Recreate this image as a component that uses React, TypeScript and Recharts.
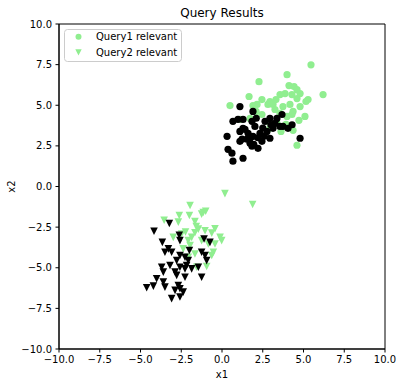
import React from 'react';
import { ScatterChart, Scatter, XAxis, YAxis, ReferenceArea, Legend } from 'recharts';

const TICKS = [-10, -7.5, -5, -2.5, 0, 2.5, 5, 7.5, 10];
const LEGEND_ITEMS = [
  { label: 'Query1 relevant', shape: 'circle' },
  { label: 'Query2 relevant', shape: 'triangle' },
];

const q1Relevant: number[][] = [
  [5.46, 7.49], [3.99, 6.88], [2.27, 6.45], [4.11, 6.21], [4.42, 6.15], [4.6, 5.96], [6.2, 5.66],
  [1.66, 5.54], [3.56, 5.66], [3.87, 5.72], [4.29, 5.66], [4.6, 5.41], [5.28, 5.35], [5.15, 5.23],
  [2.94, 5.23], [3.13, 5.05], [2.82, 5.05], [2.15, 5.05], [3.25, 4.74], [4.17, 5.05], [4.79, 4.92],
  [4.36, 4.62], [4.29, 4.43], [5.09, 4.31], [4.72, 4.07], [3.56, 4.5], [3.99, 4.31], [3.37, 3.88],
  [4.36, 3.46], [4.6, 2.54], [1.9, 4.98], [0.49, 4.98], [2.09, 4.62], [1.72, 4.19], [2.45, 5.35],
  [3.74, 4.92], [3.31, 5.35], [3.93, 3.82], [3.62, 3.39], [2.82, 4.01], [1.1, 4.13], [4.79, 5.72],
  [2.45, 4.43], [2.94, 3.58],
];

const q1Other: number[][] = [
  [1.1, 4.92], [1.9, 4.62], [0.67, 4.01], [0.98, 4.13], [1.29, 4.13], [1.84, 4.01], [0.31, 3.09],
  [1.29, 3.58], [2.02, 3.7], [2.64, 4.01], [2.94, 4.19], [3.37, 4.19], [3.68, 4.43], [3.25, 3.88],
  [3.74, 3.7], [4.05, 3.58], [3.56, 3.7], [4.79, 2.97], [1.1, 2.78], [1.53, 2.91], [1.9, 3.09],
  [2.33, 3.27], [2.76, 3.39], [2.45, 2.78], [2.21, 2.35], [1.72, 2.66], [0.37, 2.29], [0.61, 2.05],
  [1.29, 1.74], [2.94, 2.97], [3.13, 3.58], [1.1, 3.39], [1.41, 3.52], [1.6, 3.27], [1.23, 2.91],
  [1.72, 2.97], [0.67, 1.56], [1.84, 2.48], [2.5, 3.6], [2.2, 3.0], [1.95, 2.6], [2.6, 3.1],
  [3.0, 3.8], [4.3, 3.8], [2.1, 4.2],
];

const q2Relevant: number[][] = [
  [0.18, -0.44], [1.88, -1.11], [-1.96, -1.17], [-1.15, -1.6], [-1.0, -1.52], [-2.62, -1.78],
  [-2.0, -1.78], [-3.55, -2.08], [-2.68, -2.19], [-1.66, -2.16], [-1.58, -2.47], [-1.45, -2.62],
  [-2.24, -2.8], [-1.66, -2.85], [-0.43, -2.6], [-0.63, -2.87], [-1.86, -3.13], [-0.12, -3.13],
  [-0.02, -3.33], [-2.99, -3.13], [-2.07, -3.33], [-1.25, -3.33], [-0.84, -3.54], [-0.43, -3.54],
  [-1.96, -3.64], [-0.53, -4.05], [-0.63, -4.25], [-1.66, -4.15], [-2.07, -4.35], [-1.55, -4.97],
  [-0.94, -4.92], [-2.38, -3.84], [-2.48, -2.92], [-1.04, -2.72], [-1.25, -1.7],
];

const q2Other: number[][] = [
  [-3.23, -2.28], [-4.17, -2.75], [-2.62, -3.0], [-3.66, -3.44], [-2.58, -3.33], [-1.1, -3.23],
  [-0.74, -3.44], [-2.0, -3.94], [-3.29, -3.84], [-3.5, -4.05], [-3.09, -4.05], [-2.58, -4.25],
  [-2.27, -4.35], [-2.07, -4.56], [-2.78, -4.56], [-1.25, -4.05], [-1.04, -4.25], [-0.94, -4.56],
  [-3.19, -4.86], [-3.7, -4.97], [-3.6, -5.27], [-2.58, -4.97], [-2.88, -5.27], [-2.78, -5.47],
  [-2.27, -5.07], [-2.17, -4.86], [-2.27, -5.58], [-1.45, -4.97], [-1.25, -5.58], [-4.01, -5.68],
  [-3.6, -5.88], [-3.5, -6.19], [-4.62, -6.23], [-4.21, -6.13], [-2.68, -6.09], [-2.58, -6.29],
  [-2.38, -6.5], [-2.88, -6.39], [-3.09, -6.9], [-2.58, -6.8], [-1.86, -5.07],
];

const GREEN = '#90ee90';
const FONT = 'DejaVu Sans';

const toPts = (arr: number[][]) => arr.map(([x, y]) => ({ x, y }));
const fmt = (v: number) => (v < 0 ? '\u2212' : '') + Math.abs(v).toFixed(1);

const circleShape = (color: string) => (p: any) => (
  <circle cx={p.cx} cy={p.cy} r={3.6} fill={color} />
);
const triShape = (color: string) => (p: any) => {
  const s = 3.8;
  return (
    <polygon
      points={`${p.cx - s},${p.cy - s} ${p.cx + s},${p.cy - s} ${p.cx},${p.cy + s}`}
      fill={color}
    />
  );
};

const YLabel = (props: any) => {
  const vb = props.viewBox || { x: 0, y: 24, width: 59, height: 325 };
  const cx = vb.x + 11;
  const cy = vb.y + vb.height / 2;
  return (
    <text
      x={cx}
      y={cy}
      transform={`rotate(-90 ${cx} ${cy})`}
      textAnchor="middle"
      dominantBaseline="central"
      fontSize={10}
      fontFamily={FONT}
      fill="#000"
    >
      x2
    </text>
  );
};

const LegendBox = () => (
  <svg width={118} height={33} style={{ display: 'block' }}>
    <rect x={0.5} y={0.5} width={117} height={32} rx={3} fill="#fff" fillOpacity={0.8} stroke="#cccccc" />
    {LEGEND_ITEMS.map((it, i) => {
      const cy = 7.8 + i * 15.5;
      const cx = 14.5;
      return (
        <g key={it.label}>
          {it.shape === 'circle' ? (
            <circle cx={cx} cy={cy} r={3} fill={GREEN} />
          ) : (
            <polygon points={`${cx - 3.2},${cy - 3} ${cx + 3.2},${cy - 3} ${cx},${cy + 3.2}`} fill={GREEN} />
          )}
          <text x={32} y={cy} dominantBaseline="central" fontSize={10} fontFamily={FONT} fill="#000">
            {it.label}
          </text>
        </g>
      );
    })}
  </svg>
);

export default function App() {
  const tickStyle = { fill: '#000', fontSize: 10, fontFamily: FONT };
  return (
    <div style={{ position: 'absolute', left: 0, top: 0, width: 403, height: 387, background: '#fff' }}>
      <ScatterChart width={403} height={387} margin={{ top: 24, right: 18, bottom: 8, left: 0 }}>
        <XAxis
          type="number"
          dataKey="x"
          domain={[-10, 10]}
          ticks={TICKS}
          interval={0}
          allowDataOverflow
          tickFormatter={fmt}
          height={30}
          tickSize={3.5}
          tickMargin={3}
          stroke="#000"
          tick={tickStyle}
          label={{ value: 'x1', position: 'insideBottom', offset: 1, fill: '#000', fontSize: 10, fontFamily: FONT }}
        />
        <YAxis
          type="number"
          dataKey="y"
          domain={[-10, 10]}
          ticks={TICKS}
          interval={0}
          allowDataOverflow
          tickFormatter={fmt}
          width={59}
          tickSize={3.5}
          tickMargin={3.5}
          stroke="#000"
          tick={tickStyle}
          label={<YLabel />}
        />
        <ReferenceArea
          x1={-10}
          x2={10}
          y1={-10}
          y2={10}
          fill="none"
          stroke="#000"
          strokeWidth={1}
          label={{ value: 'Query Results', position: 'top', offset: 7, fill: '#000', fontSize: 12, fontFamily: FONT }}
        />
        <Scatter name="Query1 relevant" data={toPts(q1Relevant)} shape={circleShape(GREEN)} isAnimationActive={false} />
        <Scatter name="q1 other" legendType="none" data={toPts(q1Other)} shape={circleShape('#000')} isAnimationActive={false} />
        <Scatter name="Query2 relevant" data={toPts(q2Relevant)} shape={triShape(GREEN)} isAnimationActive={false} />
        <Scatter name="q2 other" legendType="none" data={toPts(q2Other)} shape={triShape('#000')} isAnimationActive={false} />
        <Legend
          layout="horizontal"
          verticalAlign="middle"
          align="center"
          wrapperStyle={{ left: 64, top: 29, width: 118, height: 33 }}
          content={() => <LegendBox />}
        />
      </ScatterChart>
    </div>
  );
}
